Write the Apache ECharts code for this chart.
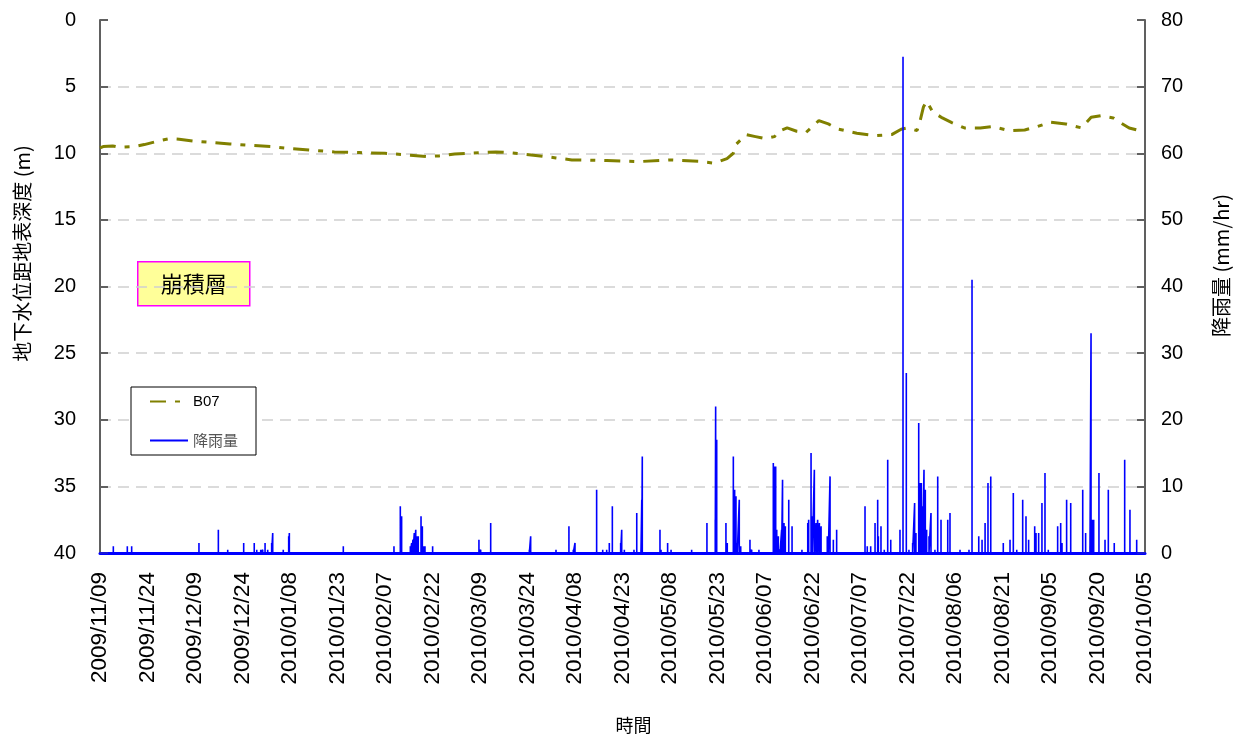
<!DOCTYPE html>
<html>
<head>
<meta charset="utf-8">
<script src="https://cdn.jsdelivr.net/npm/echarts@6/dist/echarts.min.js"></script>
<style>
html,body{margin:0;padding:0;background:#fff;}
#chart{width:1247px;height:742px;}
</style>
</head>
<body>
<div id="chart"></div>
<script>
// ---------- data ----------
const startDate = '2009-11-09';
const endDate = '2010-10-05';
const tickIntervalDays = 15;

const depthTicks = { min: 0, max: 40, interval: 5 };
const rainTicks = { min: 0, max: 80, interval: 10 };

// groundwater depth B07 (m)
const gwDates = [
  '2009-11-09','2009-11-10','2009-11-13','2009-11-15','2009-11-20','2009-11-23','2009-11-28','2009-12-01',
  '2009-12-04','2009-12-09','2009-12-15','2009-12-20','2009-12-26','2010-01-02','2010-01-08','2010-01-14',
  '2010-01-22','2010-01-30','2010-02-07','2010-02-15','2010-02-20','2010-02-24','2010-03-01','2010-03-09',
  '2010-03-14','2010-03-18','2010-03-28','2010-04-02','2010-04-07','2010-04-18','2010-04-28','2010-05-08',
  '2010-05-17','2010-05-22','2010-05-26','2010-05-28','2010-05-29','2010-06-01','2010-06-04','2010-06-07',
  '2010-06-10','2010-06-11','2010-06-14','2010-06-17','2010-06-20','2010-06-24','2010-06-27','2010-06-30',
  '2010-07-06','2010-07-12','2010-07-17','2010-07-20','2010-07-22','2010-07-25','2010-07-26','2010-07-27',
  '2010-07-28','2010-07-30','2010-08-02','2010-08-05','2010-08-09','2010-08-14','2010-08-18','2010-08-23',
  '2010-08-28','2010-09-01','2010-09-05','2010-09-10','2010-09-15','2010-09-18','2010-09-21','2010-09-25',
  '2010-09-27','2010-09-30','2010-10-04','2010-10-05'
];
const gwDepth = [
  9.6, 9.5, 9.45, 9.55, 9.5, 9.35, 9.05, 8.9,
  8.95, 9.1, 9.2, 9.3, 9.4, 9.5, 9.65, 9.75,
  9.9, 9.95, 10.0, 10.15, 10.25, 10.2, 10.05, 9.95,
  9.9, 9.95, 10.2, 10.35, 10.5, 10.55, 10.63, 10.5,
  10.6, 10.75, 10.4, 10.0, 9.3, 8.6, 8.75, 8.9,
  8.75, 8.4, 8.1, 8.35, 8.43, 7.55, 7.8, 8.18,
  8.5, 8.68, 8.6, 8.2, 8.1, 8.3, 7.55, 6.55,
  6.1, 6.9, 7.35, 7.7, 8.1, 8.1, 8.0, 8.3,
  8.25, 8.0, 7.67, 7.8, 8.1, 7.3, 7.18, 7.35,
  7.67, 8.1, 8.35, 8.4
];

// hourly rainfall events (mm/hr); all other hours are zero
const rainTimes = [
  '2009-11-09 00','2009-11-13 05','2009-11-17 15','2009-11-19 00','2009-12-10 06','2009-12-16 09','2009-12-19 08',
  '2009-12-24 09','2009-12-27 17','2009-12-28 12','2009-12-29 18','2009-12-30 09','2009-12-31 03',
  '2009-12-31 23','2010-01-02 05','2010-01-02 13','2010-01-05 21','2010-01-07 14','2010-01-07 19',
  '2010-01-24 20','2010-02-09 20','2010-02-11 20','2010-02-12 06','2010-02-15 00','2010-02-15 10',
  '2010-02-15 20','2010-02-16 06','2010-02-16 17','2010-02-17 02','2010-02-17 12','2010-02-18 09',
  '2010-02-18 19','2010-02-19 05','2010-02-19 15','2010-02-22 01','2010-03-08 16','2010-03-09 05',
  '2010-03-12 09','2010-03-24 14','2010-03-25 00','2010-04-02 00','2010-04-06 02','2010-04-07 11',
  '2010-04-08 00','2010-04-14 20','2010-04-16 18','2010-04-18 00','2010-04-18 20','2010-04-19 19',
  '2010-04-22 10','2010-04-22 18','2010-04-23 14','2010-04-26 15','2010-04-27 12','2010-04-28 20',
  '2010-04-29 02','2010-04-29 06','2010-05-04 20','2010-05-05 04','2010-05-07 06','2010-05-08 08',
  '2010-05-14 20','2010-05-19 16','2010-05-22 07','2010-05-22 10','2010-05-22 18','2010-05-25 16',
  '2010-05-26 02','2010-05-28 00','2010-05-28 10','2010-05-28 20','2010-05-29 06','2010-05-29 21',
  '2010-05-30 08','2010-06-02 06','2010-06-02 19','2010-06-05 02','2010-06-09 15','2010-06-09 23',
  '2010-06-10 09','2010-06-10 17','2010-06-11 05','2010-06-11 18','2010-06-12 06','2010-06-12 13',
  '2010-06-13 00','2010-06-13 10','2010-06-14 12','2010-06-15 13','2010-06-18 16','2010-06-20 12',
  '2010-06-20 19','2010-06-21 13','2010-06-21 23','2010-06-22 14','2010-06-23 03','2010-06-23 15',
  '2010-06-24 04','2010-06-24 17','2010-06-26 16','2010-06-27 00','2010-06-27 13','2010-06-28 14',
  '2010-06-29 15','2010-07-08 14','2010-07-09 07','2010-07-10 09','2010-07-11 18','2010-07-12 14',
  '2010-07-12 19','2010-07-13 15','2010-07-14 16','2010-07-15 18','2010-07-16 17','2010-07-19 15',
  '2010-07-20 14','2010-07-21 15','2010-07-22 11','2010-07-23 15','2010-07-24 06','2010-07-24 16',
  '2010-07-25 13','2010-07-25 23','2010-07-26 09','2010-07-26 19','2010-07-27 05','2010-07-27 15',
  '2010-07-28 01','2010-07-28 19','2010-07-29 10','2010-07-30 16','2010-07-31 13','2010-08-01 14',
  '2010-08-03 17','2010-08-04 10','2010-08-07 14','2010-08-10 10','2010-08-11 09','2010-08-13 12',
  '2010-08-14 13','2010-08-15 12','2010-08-16 10','2010-08-17 07','2010-08-21 06','2010-08-23 09',
  '2010-08-24 10','2010-08-25 12','2010-08-27 09','2010-08-28 10','2010-08-29 06','2010-08-31 04',
  '2010-08-31 14','2010-09-01 10','2010-09-02 11','2010-09-03 10','2010-09-04 11','2010-09-07 10',
  '2010-09-08 09','2010-09-08 19','2010-09-10 06','2010-09-11 13','2010-09-15 08','2010-09-16 06',
  '2010-09-17 15','2010-09-17 23','2010-09-18 09','2010-09-18 19','2010-09-20 11','2010-09-22 09',
  '2010-09-23 10','2010-09-25 07','2010-09-28 14','2010-09-30 06','2010-10-02 09','2010-10-05 00'
];
const rainValues = [
  0, 1.0, 1.0, 1.0, 1.5, 3.5, 0.5,
  1.5, 1.5, 0.5, 0.5, 0.5, 1.5,
  0.5, 1.5, 3.0, 0.5, 2.5, 3.0,
  1.0, 1.0, 7.0, 5.5, 1.0, 1.5,
  2.0, 3.0, 3.5, 2.5, 2.5, 5.5,
  4.0, 1.0, 1.0, 1.0, 2.0, 0.5,
  4.5, 0.5, 2.5, 0.5, 4.0, 0.5,
  1.5, 9.5, 0.5, 0.5, 1.5, 7.0,
  1.5, 3.5, 0.5, 0.5, 6.0, 0.5,
  8.0, 14.5, 3.5, 0.5, 1.5, 0.5,
  0.5, 4.5, 5.0, 22.0, 17.0, 4.5,
  1.5, 14.5, 9.5, 8.5, 1.5, 8.0,
  1.0, 2.0, 0.5, 0.5, 13.5, 13.0,
  13.0, 3.5, 2.5, 0.5, 3.5, 11.0,
  4.5, 4.0, 8.0, 4.0, 0.5, 4.5,
  5.0, 15.0, 5.5, 12.5, 4.5, 5.0,
  4.5, 4.0, 2.5, 2.5, 11.5, 2.0,
  3.5, 7.0, 1.0, 1.0, 4.5, 8.0,
  2.5, 4.0, 0.5, 14.0, 2.0, 3.5,
  74.5, 27.0, 0.5, 1.5, 7.5, 3.0,
  19.5, 10.5, 10.5, 7.0, 12.5, 9.5,
  3.5, 2.5, 6.0, 0.5, 11.5, 5.0,
  5.0, 6.0, 0.5, 0.5, 41.0, 2.5,
  2.0, 4.5, 10.5, 11.5, 1.5, 2.0,
  9.0, 0.5, 8.0, 5.5, 2.0, 4.0,
  3.0, 3.0, 7.5, 12.0, 0.5, 4.0,
  4.5, 1.5, 8.0, 7.5, 9.5, 3.0,
  1.0, 33.0, 5.0, 5.0, 12.0, 2.0,
  9.5, 1.5, 14.0, 6.5, 2.0, 0
];

// ---------- helpers ----------
const DAY = 86400000;
function parseT(s) {
  const [d, h] = s.split(' ');
  const [Y, M, D] = d.split('-').map(Number);
  return Date.UTC(Y, M - 1, D, h ? Number(h) : 0);
}
const t0 = parseT(startDate);
const toDay = s => (parseT(s) - t0) / DAY;
const pad = n => (n < 10 ? '0' : '') + n;
function dayLabel(v) {
  const d = new Date(t0 + Math.round(v) * DAY);
  return d.getUTCFullYear() + '/' + pad(d.getUTCMonth() + 1) + '/' + pad(d.getUTCDate());
}

const gwData = gwDates.map((s, i) => [toDay(s), gwDepth[i]]);
// rain hydrograph: zero baseline with a spike for every rainy hour
const rainData = [];
rainTimes.forEach((s, i) => {
  const x = toDay(s);
  rainData.push([x, 0]);
  if (rainValues[i] > 0) { rainData.push([x, rainValues[i]]); rainData.push([x, 0]); }
});

const NUM_FONT = '"Liberation Sans", Arial, sans-serif';
const CJK_FONT = '"Noto Sans CJK TC", "Noto Sans CJK SC", sans-serif';

const chart = echarts.init(document.getElementById('chart'), null, { renderer: 'canvas' });
chart.setOption({
  animation: false,
  backgroundColor: '#ffffff',
  grid: { left: 100, right: 102, top: 20, bottom: 189, containLabel: false },
  xAxis: {
    type: 'value',
    min: 0,
    max: toDay(endDate),
    interval: tickIntervalDays,
    name: '時間',
    nameLocation: 'middle',
    nameGap: 163,
    nameTextStyle: { fontFamily: CJK_FONT, fontSize: 18, color: '#000', padding: [0, 0, 0, 22] },
    axisLine: { show: true, onZero: false, lineStyle: { color: '#0000ff', width: 3 } },
    axisTick: { show: false },
    splitLine: { show: false },
    axisLabel: {
      rotate: 90,
      margin: 19,
      fontFamily: NUM_FONT,
      fontSize: 22.5,
      color: '#000',
      formatter: v => dayLabel(v),
      showMinLabel: true,
      showMaxLabel: true
    }
  },
  yAxis: [
    {
      type: 'value',
      inverse: true,
      min: depthTicks.min, max: depthTicks.max, interval: depthTicks.interval,
      name: '地下水位距地表深度 (m)',
      nameLocation: 'middle',
      nameRotate: 90,
      nameGap: 68,
      nameTextStyle: { fontFamily: CJK_FONT, fontSize: 20, color: '#000', padding: [0, 0, 0, 66] },
      axisLine: { show: true, onZero: false, lineStyle: { color: '#606060', width: 2 } },
      axisTick: { show: true, inside: true, length: 8, lineStyle: { color: '#606060', width: 2 } },
      axisLabel: { margin: 24, fontFamily: NUM_FONT, fontSize: 20, color: '#000' },
      splitLine: {
        show: true, showMinLine: false, showMaxLine: false,
        lineStyle: { color: '#cfcfcf', width: 1.5, type: [11, 7] }
      }
    },
    {
      type: 'value',
      position: 'right',
      min: rainTicks.min, max: rainTicks.max, interval: rainTicks.interval,
      name: '降雨量 (mm/hr)',
      nameLocation: 'middle',
      nameRotate: 90,
      nameGap: 66,
      nameTextStyle: { fontFamily: CJK_FONT, fontSize: 20, color: '#000', padding: [0, 0, 0, 42] },
      axisLine: { show: true, onZero: false, lineStyle: { color: '#606060', width: 2 } },
      axisTick: { show: true, inside: true, length: 8, lineStyle: { color: '#606060', width: 2 } },
      axisLabel: { margin: 16, fontFamily: NUM_FONT, fontSize: 20, color: '#000' },
      splitLine: { show: false }
    }
  ],
  legend: {
    orient: 'vertical',
    left: 131,
    top: 387,
    padding: [7, 18, 7, 18],
    itemWidth: 38,
    itemHeight: 14,
    itemGap: 24,
    backgroundColor: '#ffffff',
    borderColor: '#000000',
    borderWidth: 1,
    borderRadius: 0,
    itemStyle: { color: 'rgba(0,0,0,0)', borderWidth: 0, opacity: 0 },
    textStyle: { fontFamily: NUM_FONT, fontSize: 15, color: '#000' },
    data: [
      { name: 'B07', textStyle: { fontFamily: NUM_FONT, color: '#000' } },
      { name: '降雨量', textStyle: { fontFamily: CJK_FONT, color: '#555' } }
    ]
  },
  graphic: [
    {
      type: 'group',
      left: 137,
      top: 261,
      children: [
        { type: 'rect', shape: { x: 0, y: 0, width: 112, height: 44 },
          style: { fill: '#ffff99', stroke: '#ff00ff', lineWidth: 1.5 } },
        { type: 'text', x: 56, y: 22,
          style: { text: '崩積層', fontFamily: CJK_FONT, fontSize: 22, fill: '#000',
                   align: 'center', verticalAlign: 'middle' } }
      ]
    }
  ],
  series: [
    {
      name: 'B07',
      type: 'line',
      yAxisIndex: 0,
      data: gwData,
      symbol: 'none',
      showSymbol: false,
      smooth: false,
      lineStyle: { color: '#808000', width: 3, type: [16, 9, 5, 9] },
      itemStyle: { color: '#808000' },
      z: 3
    },
    {
      name: '降雨量',
      type: 'line',
      yAxisIndex: 1,
      data: rainData,
      symbol: 'none',
      showSymbol: false,
      clip: false,
      lineStyle: { color: '#0000ff', width: 1.6, join: 'bevel' },
      itemStyle: { color: '#0000ff' },
      z: 4
    }
  ]
});
</script>
</body>
</html>
